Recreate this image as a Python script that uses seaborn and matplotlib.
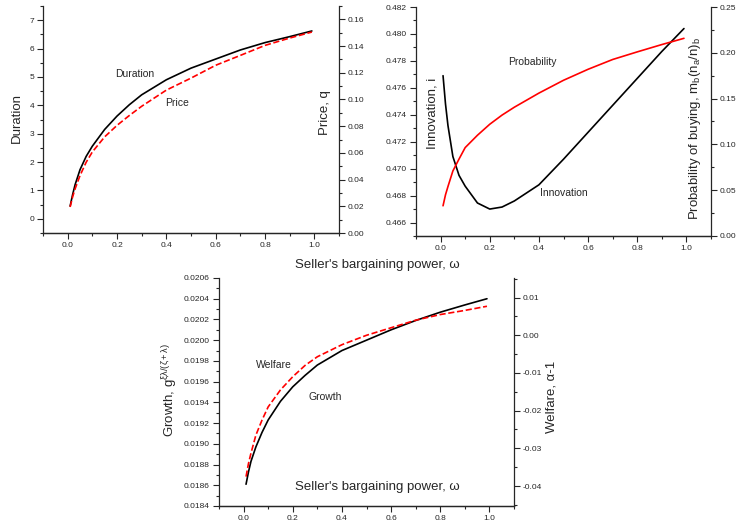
import numpy as np
import pandas as pd
import matplotlib
matplotlib.use("Agg")
import matplotlib.pyplot as plt
from matplotlib.ticker import MultipleLocator, FormatStrFormatter
import seaborn as sns

# ---- data ----
omega = [0.01, 0.02, 0.03, 0.05, 0.075, 0.1, 0.15, 0.2, 0.25, 0.3, 0.4, 0.5, 0.6, 0.7, 0.8, 0.9, 0.99]
duration = [0.45, 0.85, 1.2, 1.73, 2.2, 2.56, 3.15, 3.62, 4.02, 4.37, 4.9, 5.31, 5.63, 5.95, 6.21, 6.42, 6.62]
price = [0.0195, 0.027, 0.033, 0.043, 0.053, 0.0607, 0.072, 0.0806, 0.088, 0.0949, 0.107, 0.116,
         0.1256, 0.133, 0.1405, 0.146, 0.1505]
innovation = [0.4769, 0.4748, 0.4732, 0.4709, 0.4695, 0.4687, 0.46745, 0.4670, 0.46715, 0.4676,
              0.4688, 0.4707, 0.4727, 0.4747, 0.4767, 0.4787, 0.4804]
probability = [0.033, 0.045, 0.054, 0.071, 0.084, 0.0965, 0.110, 0.122, 0.132, 0.1406, 0.156, 0.170,
               0.182, 0.1927, 0.201, 0.209, 0.2158]
growth = [0.01861, 0.01873, 0.01883, 0.01897, 0.01911, 0.01923, 0.01941, 0.01955, 0.01966, 0.01976,
          0.0199, 0.0200, 0.0201, 0.02019, 0.02027, 0.02034, 0.0204]
welfare = [-0.0375, -0.034, -0.0313, -0.0265, -0.0225, -0.019, -0.0145, -0.011, -0.008, -0.0057,
           -0.0025, 0.0, 0.002, 0.004, 0.0055, 0.0066, 0.0077]

df = pd.DataFrame({"omega": omega, "duration": duration, "price": price, "innovation": innovation,
                   "probability": probability, "growth": growth, "welfare": welfare})

sns.set_style("ticks")
plt.rcParams["font.family"] = ["Liberation Sans", "DejaVu Sans"]
plt.rcParams["axes.unicode_minus"] = False
plt.rcParams["mathtext.fontset"] = "custom"
plt.rcParams["mathtext.rm"] = "Liberation Sans"
plt.rcParams["mathtext.it"] = "Liberation Sans"

W, H = 736, 525
fig = plt.figure(figsize=(W / 100, H / 100), dpi=100)
fig.patch.set_facecolor("white")

TICK_FS = 6.0
LABEL_FS = 9.5
ANN_FS = 7.5
LW = 1.2


def box(l, r, t, b):
    return [l / W, (H - b) / H, (r - l) / W, (b - t) / H]


def style(ax, side):
    ax.set_xlabel("")
    ax.set_ylabel("")
    ax.spines["top"].set_visible(False)
    if side == "left":
        ax.spines["right"].set_visible(False)
    else:
        ax.spines["left"].set_visible(False)
    for s in ax.spines.values():
        s.set_linewidth(0.9)
    ax.tick_params(which="major", direction="out", length=4, width=0.8, labelsize=TICK_FS, pad=2.5)
    ax.tick_params(which="minor", direction="out", length=2, width=0.8)
    ax.patch.set_alpha(0)


def xaxis(ax):
    ax.set_xlim(-0.1, 1.1)
    ax.xaxis.set_minor_locator(MultipleLocator(0.1))
    ax.set_xticks([0.0, 0.2, 0.4, 0.6, 0.8, 1.0])
    ax.xaxis.set_major_formatter(FormatStrFormatter("%.1f"))


# ---------- panel 1: Duration / Price ----------
ax1 = fig.add_axes(box(43, 339, 6, 233))
sns.lineplot(data=df, x="omega", y="duration", ax=ax1, color="black", linewidth=LW)
xaxis(ax1)
ax1.set_ylim(-0.5, 7.5)
ax1.yaxis.set_major_locator(MultipleLocator(1))
ax1.yaxis.set_minor_locator(MultipleLocator(0.5))
ax1.yaxis.set_major_formatter(FormatStrFormatter("%d"))
style(ax1, "left")
ax1b = ax1.twinx()
sns.lineplot(data=df, x="omega", y="price", ax=ax1b, color="red", linewidth=LW, linestyle="--")
ax1b.set_ylim(0, 0.17)
ax1b.yaxis.set_major_locator(MultipleLocator(0.02))
ax1b.yaxis.set_minor_locator(MultipleLocator(0.01))
ax1b.yaxis.set_major_formatter(FormatStrFormatter("%.2f"))
style(ax1b, "right")
ax1.text(0.27, 5.1, "Duration", fontsize=ANN_FS, ha="center", va="center")
ax1b.text(0.445, 0.097, "Price", fontsize=ANN_FS, ha="center", va="center")

# ---------- panel 2: Innovation / Probability ----------
ax2 = fig.add_axes(box(416, 711, 7, 236))
sns.lineplot(data=df, x="omega", y="innovation", ax=ax2, color="black", linewidth=LW)
xaxis(ax2)
ax2.set_ylim(0.465, 0.482)
ax2.yaxis.set_major_locator(MultipleLocator(0.002))
ax2.yaxis.set_minor_locator(MultipleLocator(0.001))
ax2.yaxis.set_major_formatter(FormatStrFormatter("%.3f"))
style(ax2, "left")
ax2b = ax2.twinx()
sns.lineplot(data=df, x="omega", y="probability", ax=ax2b, color="red", linewidth=LW)
ax2b.set_ylim(0, 0.25)
ax2b.yaxis.set_major_locator(MultipleLocator(0.05))
ax2b.yaxis.set_minor_locator(MultipleLocator(0.025))
ax2b.yaxis.set_major_formatter(FormatStrFormatter("%.2f"))
style(ax2b, "right")
ax2.text(0.375, 0.4779, "Probability", fontsize=ANN_FS, ha="center", va="center")
ax2.text(0.5, 0.4682, "Innovation", fontsize=ANN_FS, ha="center", va="center")

# ---------- panel 3: Growth / Welfare ----------
ax3 = fig.add_axes(box(219, 514, 278, 506))
sns.lineplot(data=df, x="omega", y="growth", ax=ax3, color="black", linewidth=LW)
xaxis(ax3)
ax3.set_ylim(0.0184, 0.0206)
ax3.yaxis.set_major_locator(MultipleLocator(0.0002))
ax3.yaxis.set_minor_locator(MultipleLocator(0.0001))
ax3.yaxis.set_major_formatter(FormatStrFormatter("%.4f"))
style(ax3, "left")
ax3b = ax3.twinx()
sns.lineplot(data=df, x="omega", y="welfare", ax=ax3b, color="red", linewidth=LW, linestyle="--")
ax3b.set_ylim(-0.0453, 0.0152)
ax3b.yaxis.set_major_locator(MultipleLocator(0.01))
ax3b.yaxis.set_minor_locator(MultipleLocator(0.005))
ax3b.yaxis.set_major_formatter(FormatStrFormatter("%.2f"))
style(ax3b, "right")
ax3.text(0.125, 0.01976, "Welfare", fontsize=ANN_FS, ha="center", va="center")
ax3.text(0.33, 0.01945, "Growth", fontsize=ANN_FS, ha="center", va="center")

# ---------- free-floating labels ----------
def ftext(x, y, s, rot=0, fs=LABEL_FS):
    fig.text(x / W, 1 - y / H, s, rotation=rot, fontsize=fs, ha="center", va="center")

ftext(17, 118, "Duration", 90)
ftext(325, 113, "Price, q", 90)
ftext(432, 113, "Innovation, i", 90)
ftext(695, 128, r"Probability of buying, m$_b$(n$_a$/n)$_b$", 90)
ftext(170, 390, r"Growth, g$^{\xi\lambda/(\zeta+\lambda)}$", 90)
ftext(552, 397, "Welfare, α-1", 90)
ftext(377, 265, "Seller's bargaining power, ω")
ftext(377, 487, "Seller's bargaining power, ω")

fig.savefig("out.png", dpi=100, facecolor="white")
